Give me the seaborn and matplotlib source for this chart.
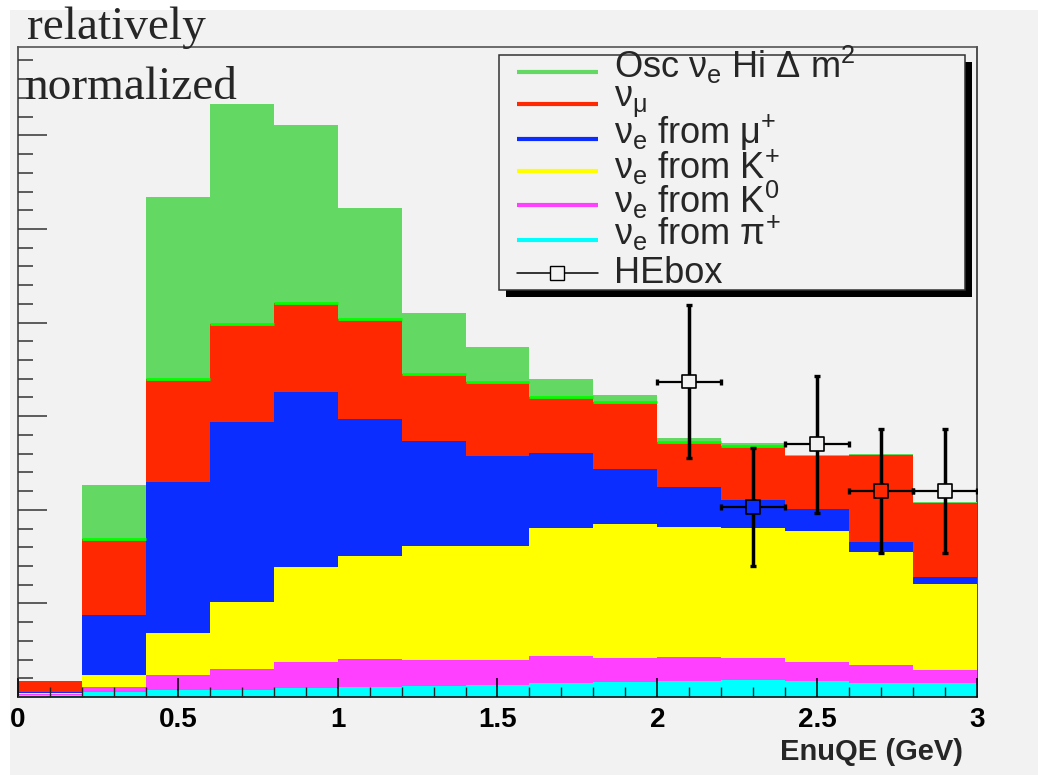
import numpy as np
import pandas as pd
import matplotlib
matplotlib.use("Agg")
import matplotlib.pyplot as plt
import seaborn as sns
from matplotlib.lines import Line2D
from matplotlib.patches import Rectangle
from matplotlib.ticker import MultipleLocator

# ---------------------------------------------------------------- data
# Reconstructed neutrino energy binning (GeV)
bin_edges = [0.0, 0.2, 0.4, 0.6, 0.8, 1.0, 1.2, 1.4, 1.6, 1.8, 2.0,
             2.2, 2.4, 2.6, 2.8, 3.0]

# Relatively normalized contributions per bin (bottom of the stack first)
nue_from_pi = [0.019, 0.049, 0.070, 0.078, 0.100, 0.107, 0.120, 0.130,
               0.145, 0.160, 0.174, 0.185, 0.174, 0.145, 0.145]
nue_from_k0 = [0.013, 0.058, 0.160, 0.222, 0.274, 0.303, 0.280, 0.270,
               0.295, 0.260, 0.256, 0.235, 0.200, 0.195, 0.139]
nue_from_kp = [0.011, 0.131, 0.450, 0.710, 1.016, 1.100, 1.210, 1.210,
               1.370, 1.430, 1.390, 1.390, 1.396, 1.210, 0.926]
nue_from_mu = [0.014, 0.641, 1.620, 1.930, 1.870, 1.460, 1.130, 0.960,
               0.800, 0.590, 0.420, 0.290, 0.240, 0.110, 0.070]
numu = [0.110, 0.811, 1.100, 1.040, 0.950, 1.070, 0.710, 0.800,
        0.600, 0.710, 0.480, 0.580, 0.560, 0.925, 0.790]
osc_nue_hi_dm2 = [0.000, 0.580, 1.940, 2.350, 1.900, 1.180, 0.650, 0.370,
                  0.190, 0.080, 0.050, 0.030, 0.010, 0.015, 0.010]

# HEbox points
he_x = [2.1, 2.3, 2.5, 2.7, 2.9]
he_y = [3.37, 2.03, 2.70, 2.20, 2.20]
he_yerr = [0.82, 0.63, 0.73, 0.66, 0.66]
he_xerr = [0.1, 0.1, 0.1, 0.1, 0.1]

x_tick_values = [0, 0.5, 1, 1.5, 2, 2.5, 3]
x_tick_labels = ["0", "0.5", "1", "1.5", "2", "2.5", "3"]

component_labels = [
    r"$\nu_e$ from π$^{+}$",
    r"$\nu_e$ from K$^{0}$",
    r"$\nu_e$ from K$^{+}$",
    r"$\nu_e$ from μ$^{+}$",
    r"$\nu_\mu$",
    r"Osc $\nu_e$ Hi Δ m$^2$",
]
component_colors = ["#00ffff", "#ff40ff", "#ffff00", "#0c2dff", "#ff2800", "#63d863"]
osc_edge_color = "#00ff00"
BG = "#f2f2f2"

# ---------------------------------------------------------------- style
sns.set_style("ticks")
plt.rcParams.update({
    "font.family": ["Liberation Sans", "DejaVu Sans"],
    "mathtext.fontset": "custom",
    "mathtext.rm": "Liberation Sans",
    "mathtext.it": "Liberation Sans:italic",
    "mathtext.bf": "Liberation Sans:bold",
    "mathtext.default": "regular",
})

W, H = 1038, 775
fig = plt.figure(figsize=(W / 100, H / 100), dpi=100, facecolor=BG)


def fx(px):
    return px / W


def fy(py):
    return 1 - py / H


# thin white margin along the top and left edges of the canvas
fig.add_artist(Rectangle((0, 0), fx(10), 1, transform=fig.transFigure,
                         facecolor="white", edgecolor="none", zorder=-5))
fig.add_artist(Rectangle((0, fy(10)), 1, 10 / H, transform=fig.transFigure,
                         facecolor="white", edgecolor="none", zorder=-5))

ax = fig.add_axes([fx(18), fy(697), fx(977) - fx(18), fy(47) - fy(697)])
ax.set_facecolor(BG)

# ---------------------------------------------------------------- stack
edges = np.asarray(bin_edges)
components = np.vstack([nue_from_pi, nue_from_k0, nue_from_kp,
                        nue_from_mu, numu, osc_nue_hi_dm2])
cumulative = np.cumsum(components, axis=0)
centers = 0.5 * (edges[:-1] + edges[1:])

for level in range(len(components) - 1, -1, -1):
    layer = pd.DataFrame({"EnuQE": centers, "total": cumulative[level]})
    sns.histplot(data=layer, x="EnuQE", weights="total", bins=bin_edges,
                 element="step", fill=True, color=component_colors[level],
                 alpha=1, linewidth=0, ax=ax)

# bright edge on top of the unoscillated stack where the signal shows
red_top = cumulative[4]
mask = np.asarray(osc_nue_hi_dm2) >= 0.02
ax.hlines(red_top[mask], edges[:-1][mask], edges[1:][mask],
          colors=osc_edge_color, linewidth=2.0, zorder=1.5)

# ---------------------------------------------------------------- HEbox points
ax.errorbar(he_x, he_y, yerr=he_yerr, fmt="none", ecolor="black",
            elinewidth=2.5, capsize=2.0, capthick=2.4, zorder=3)
ax.errorbar(he_x, he_y, xerr=he_xerr, fmt="none", ecolor="black",
            elinewidth=1.6, capsize=2.0, capthick=2.4, zorder=3)

# hollow markers: the interior shows whatever lies underneath
faces = []
for xv, yv in zip(he_x, he_y):
    b = min(int(np.searchsorted(edges, xv, side="right") - 1), len(centers) - 1)
    face = BG
    for level in range(len(components)):
        if yv < cumulative[level][b]:
            face = component_colors[level]
            break
    faces.append(face)
ax.scatter(he_x, he_y, marker="s", s=100, facecolors=faces,
           edgecolors="black", linewidths=1.2, zorder=4)

# ---------------------------------------------------------------- axes
ax.set_xlim(0, 3)
ax.set_ylim(0, 6.944)
ax.set_axisbelow(False)
ax.xaxis.set_major_locator(MultipleLocator(0.5))
ax.xaxis.set_minor_locator(MultipleLocator(0.1))
ax.yaxis.set_major_locator(MultipleLocator(1.0))
ax.yaxis.set_minor_locator(MultipleLocator(0.2))
ax.set_xticks(x_tick_values, x_tick_labels, fontsize=20, fontweight="bold")
ax.tick_params(axis="x", which="major", direction="in", length=14, width=1.1,
               pad=7, colors="black", top=False)
ax.tick_params(axis="x", which="minor", direction="in", length=7, width=1.0,
               top=False)
ax.tick_params(axis="y", which="major", direction="in", length=21, width=1.1,
               color="#333333", labelleft=False, right=False)
ax.tick_params(axis="y", which="minor", direction="in", length=11, width=1.1,
               color="#333333", right=False)
for side, col in (("left", "#444444"), ("top", "#555555"),
                  ("right", "#333333"), ("bottom", "#111111")):
    ax.spines[side].set_visible(True)
    ax.spines[side].set_color(col)
    ax.spines[side].set_linewidth(1.2)
# the filled stack hides the right frame line where it reaches the edge
ax.spines["right"].set_zorder(0.5)
ax.set_ylabel("")
ax.set_xlabel("EnuQE (GeV)", fontsize=21, fontweight="bold")
ax.xaxis.label.set_horizontalalignment("right")
ax.xaxis.label.set_verticalalignment("baseline")
ax.xaxis.set_label_coords((963 - 18) / 959, -(760 - 697) / 650)

# ---------------------------------------------------------------- legend
fig.add_artist(Rectangle((fx(505.5), fy(296.5)), fx(972) - fx(505.5),
                         fy(61.5) - fy(296.5), transform=fig.transFigure,
                         facecolor="black", edgecolor="none", zorder=8))
fig.add_artist(Rectangle((fx(498.5), fy(289.5)), fx(965) - fx(498.5),
                         fy(54.5) - fy(289.5), transform=fig.transFigure,
                         facecolor=BG, edgecolor="#333333", linewidth=1.1,
                         zorder=9))

legend_rows = [
    (component_labels[5], component_colors[5], 78.3, 71.7),
    (component_labels[4], component_colors[4], 106.7, 104.3),
    (component_labels[3], component_colors[3], 143.3, 138.7),
    (component_labels[2], component_colors[2], 178.3, 171.0),
    (component_labels[1], component_colors[1], 213.3, 205.3),
    (component_labels[0], component_colors[0], 245.0, 240.0),
]
for label, color, base, mid in legend_rows:
    fig.add_artist(Line2D([fx(517), fx(598)], [fy(mid), fy(mid)],
                          transform=fig.transFigure, color=color,
                          linewidth=3.0, solid_capstyle="butt", zorder=10))
    fig.text(fx(614), fy(base), label, fontsize=26, va="baseline",
             ha="left", zorder=10)

fig.add_artist(Line2D([fx(517), fx(598)], [fy(272.7), fy(272.7)],
                      transform=fig.transFigure, color="black",
                      linewidth=1.1, zorder=10))
fig.add_artist(Line2D([fx(556.7)], [fy(272.7)], transform=fig.transFigure,
                      marker="s", markersize=10, markerfacecolor=BG,
                      markeredgecolor="black", markeredgewidth=1.0,
                      linestyle="none", zorder=11))
fig.text(fx(614), fy(283.3), "HEbox", fontsize=26, va="baseline",
         ha="left", zorder=10)

# ---------------------------------------------------------------- title text
fig.text(fx(27), fy(39), "relatively", fontsize=34,
         family="Liberation Serif", va="baseline", ha="left", zorder=12)
fig.text(fx(25), fy(99), "normalized", fontsize=34,
         family="Liberation Serif", va="baseline", ha="left", zorder=12)

fig.savefig("out.png", dpi=100, facecolor=BG)
